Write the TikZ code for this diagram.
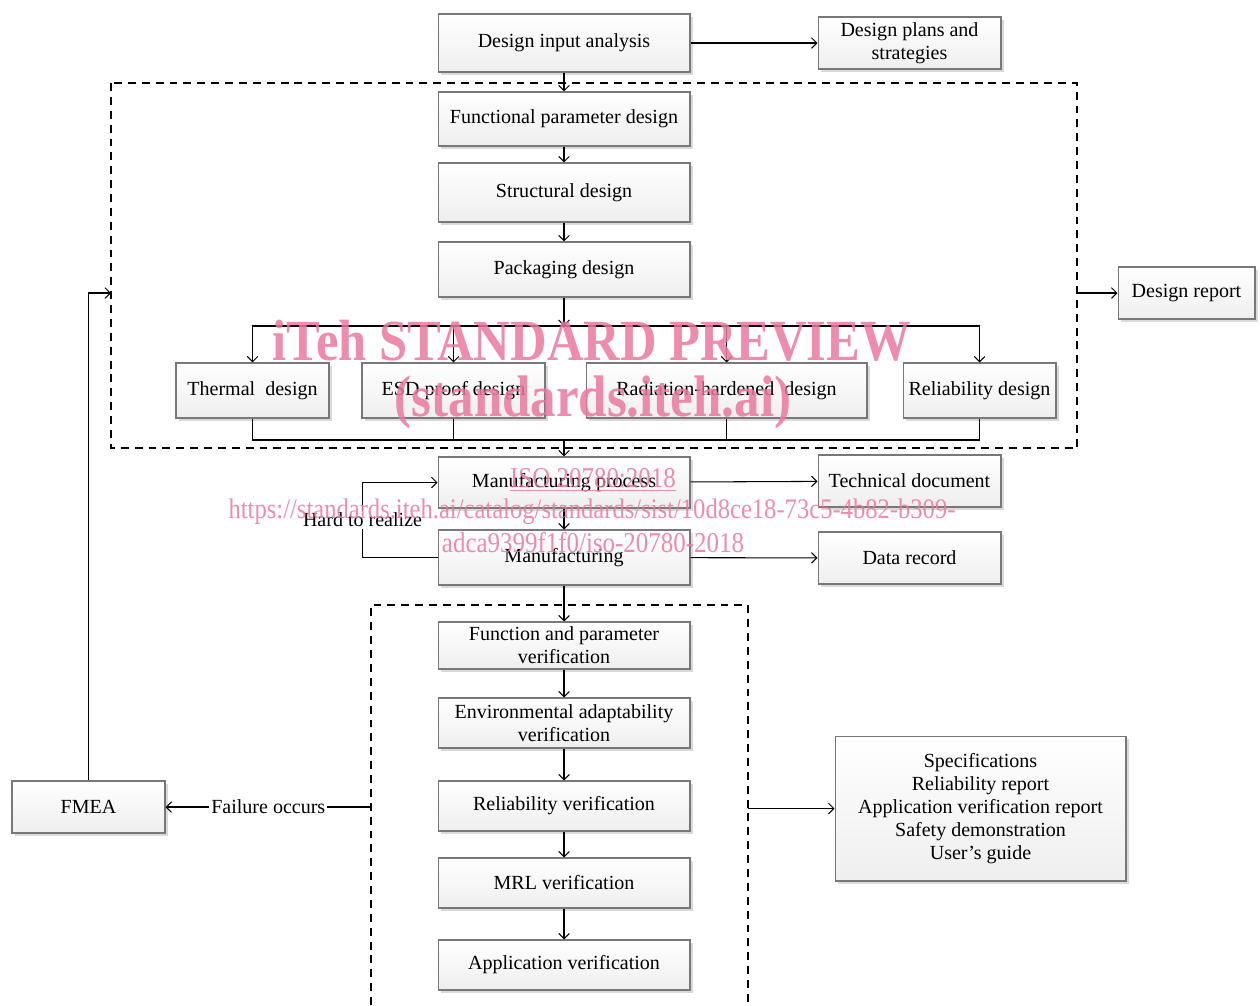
\documentclass[tikz,border=0pt]{standalone}
\usepackage{fontspec}
\setmainfont{Liberation Serif}
\usepackage{tikz}
\usetikzlibrary{
    arrows.meta,
    calc,
    shadows
}

\definecolor{boxline}{RGB}{120,120,120}
\definecolor{wmark}{RGB}{234,120,158}

\begin{document}
\begin{tikzpicture}[x=0.02cm,y=-0.02cm,
    blk/.style={draw=boxline, line width=0.6pt, top color=white, bottom color=gray!13,
        drop shadow={shadow xshift=1.6pt, shadow yshift=-1.6pt, opacity=0.3},
        align=center, inner sep=1pt, font=\fontsize{11.4}{13}\selectfont},
    arr/.style={-{Straight Barb[length=3pt,width=6pt]}, line width=0.6pt},
    wire/.style={line width=0.6pt},
    lbl/.style={fill=white, inner sep=1pt, font=\fontsize{11.4}{13}\selectfont},
    frame/.style={line width=0.6pt, dash pattern=on 4.5pt off 3.4pt},
    wm/.style={text=wmark, text opacity=0.85, yscale=1.15}]

\useasboundingbox (0,0) rectangle (1260,1005);

% Dashed groups
\draw[frame] (111,83) rectangle (1077,448);
\draw[frame] (371,1005) -- (371,605) -- (748,605) -- (748,1005);

% Design column
\node[blk, minimum width=5.04cm, minimum height=1.16cm] (dia) at (564,43) {Design input analysis};
\node[blk, minimum width=3.66cm, minimum height=1.04cm] (plans) at (909.5,43) {Design plans and\\strategies};
\node[blk, minimum width=5.04cm, minimum height=1.08cm] (fpd) at (564,119) {Functional parameter design};
\node[blk, minimum width=5.04cm, minimum height=1.18cm] (sd) at (564,192.5) {Structural design};
\node[blk, minimum width=5.04cm, minimum height=1.10cm] (pkg) at (564,269.5) {Packaging design};

% Four parallel designs
\node[blk, minimum width=3.06cm, minimum height=1.10cm] (thermal) at (252.5,390.5) {Thermal~ design};
\node[blk, minimum width=3.66cm, minimum height=1.10cm] (esd) at (453.5,390.5) {ESD proof design};
\node[blk, minimum width=5.62cm, minimum height=1.10cm] (rad) at (726.5,390.5) {Radiation-hardened~ design};
\node[blk, minimum width=3.06cm, minimum height=1.10cm] (rel) at (979.5,390.5) {Reliability design};
\node[blk, minimum width=2.74cm, minimum height=1.04cm] (drep) at (1186.5,293) {Design report};

% Manufacturing
\node[blk, minimum width=5.04cm, minimum height=1.02cm] (mproc) at (564,482.5) {Manufacturing process};
\node[blk, minimum width=3.66cm, minimum height=1.04cm] (tdoc) at (909.5,481) {Technical document};
\node[blk, minimum width=5.04cm, minimum height=1.10cm] (mfg) at (564,557.5) {Manufacturing};
\node[blk, minimum width=3.66cm, minimum height=1.04cm] (drec) at (909.5,558) {Data record};

% Verification column
\node[blk, minimum width=5.04cm, minimum height=0.94cm] (fpv) at (564,645.5) {Function and parameter\\verification};
\node[blk, minimum width=5.04cm, minimum height=1.00cm] (eav) at (564,723) {Environmental adaptability\\verification};
\node[blk, minimum width=5.04cm, minimum height=1.00cm] (rv) at (564,806) {Reliability verification};
\node[blk, minimum width=5.04cm, minimum height=1.00cm] (mrl) at (564,883) {MRL verification};
\node[blk, minimum width=5.04cm, minimum height=1.00cm] (av) at (564,965) {Application verification};

\node[blk, minimum width=3.06cm, minimum height=1.04cm] (fmea) at (88.5,807) {FMEA};
\node[blk, minimum width=5.82cm, minimum height=2.90cm] (outs) at (980.5,808.5)
    {Specifications\\Reliability report\\Application verification report\\Safety demonstration\\User's guide};

% Junctions and frame edges
\coordinate (split) at (564,326);
\coordinate (join) at (564,440);
\coordinate (dleft) at (111,293);
\coordinate (dright) at (1077,293);
\coordinate (vleft) at (371,807);
\coordinate (vright) at (748,808.5);

% Connectors
\draw[arr] (dia) -- (plans);
\draw[arr] (dia) -- (fpd);
\draw[arr] (fpd) -- (sd);
\draw[arr] (sd) -- (pkg);
\draw[arr] (pkg) -- (split);
\foreach \n in {thermal,esd,rad,rel}{
    \draw[arr] (split) -| (\n);
    \draw[wire] (\n) |- (join);
}
\draw[arr] (join) -- (mproc);
\draw[arr] (dright) -- (drep);
\draw[arr] (mproc) -- (tdoc);
\draw[arr] (mproc) -- (mfg);
\draw[arr] (mfg) -- (drec);
\draw[arr] (mfg.west) -- ++(-75,0) -- node[lbl] {Hard to realize} ++(0,-75) -- (mproc.west);
\draw[arr] (mfg) -- (fpv);
\draw[arr] (fpv) -- (eav);
\draw[arr] (eav) -- (rv);
\draw[arr] (rv) -- (mrl);
\draw[arr] (mrl) -- (av);
\draw[arr] (vleft) -- node[lbl] {Failure occurs} (fmea);
\draw[arr] (fmea) |- (dleft);
\draw[arr] (vright) -- (outs);

% Watermark
\node[wm, font=\bfseries\fontsize{28.8}{30}\selectfont] (wm1) at (592,341) {iTeh STANDARD PREVIEW};
\node[wm, font=\bfseries\fontsize{29}{30}\selectfont] (wm2) at (593,402) {(standards.iteh.ai)};
\node[wm, font=\fontsize{14.2}{15}\selectfont] (wm3) at (593,480) {\underline{ISO 20780:2018}};
\node[wm, font=\fontsize{14}{15}\selectfont] (wm4) at (592,512) {https://standards.iteh.ai/catalog/standards/sist/10d8ce18-73c5-4b82-b309-};
\node[wm, font=\fontsize{14.2}{15}\selectfont] (wm5) at (593,543) {adca9399f1f0/iso-20780-2018};

\end{tikzpicture}
\end{document}
